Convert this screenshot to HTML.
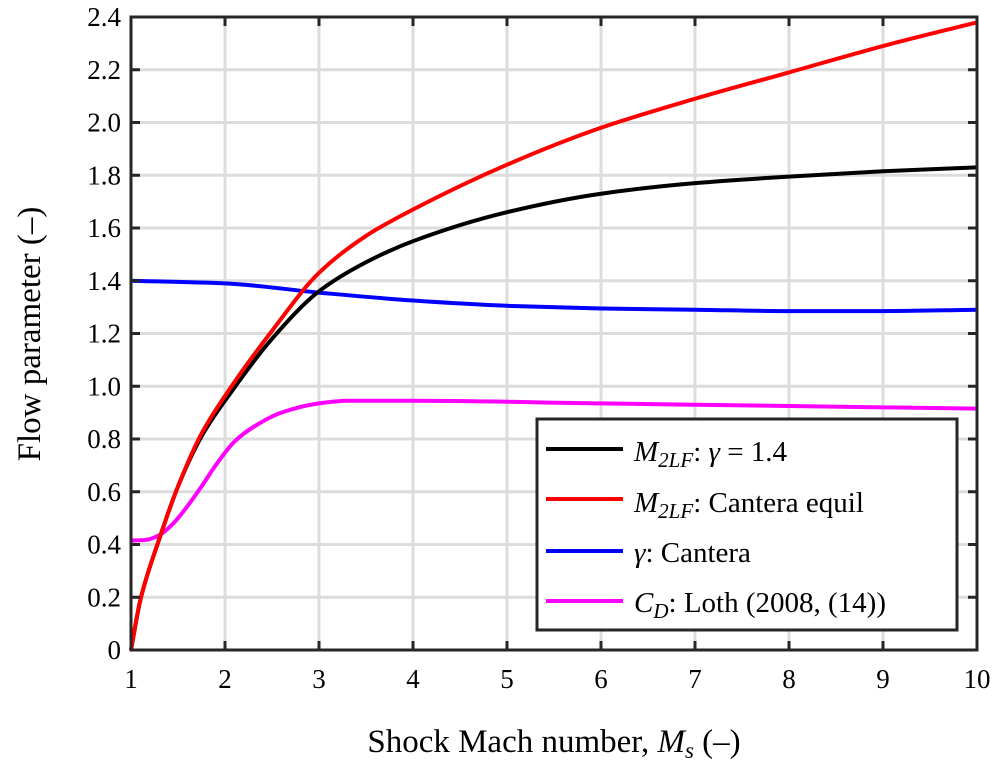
<!DOCTYPE html>
<html><head><meta charset="utf-8"><style>
body{margin:0;background:#fff;width:993px;height:771px;overflow:hidden}
svg text, svg tspan{font-family:"Liberation Serif","DejaVu Serif",serif !important}
</style></head><body>
<svg id="chart" width="993" height="771" style="position:absolute;left:0;top:0"></svg>
<script>
const xTicks=[1,2,3,4,5,6,7,8,9,10];
const yTicks=[0,0.2,0.4,0.6,0.8,1.0,1.2,1.4,1.6,1.8,2.0,2.2,2.4];
const yTickLabels=["0","0.2","0.4","0.6","0.8","1.0","1.2","1.4","1.6","1.8","2.0","2.2","2.4"];
const blackX=[1,1.1,1.3,1.5,1.75,2.07,2.5,3,3.5,4,5,6,7,8,9,10];
const blackY=[0,0.19,0.42,0.62,0.81,0.98,1.18,1.36,1.47,1.55,1.66,1.73,1.77,1.795,1.815,1.83];
const redX=[1,1.1,1.3,1.5,1.75,2.07,2.5,3,3.5,4,5,6,7,8,9,10];
const redY=[0,0.19,0.42,0.62,0.82,1.0,1.21,1.43,1.57,1.67,1.84,1.98,2.09,2.19,2.29,2.38];
const blueX=[1,2,3,4,5,6,7,8,9,10];
const blueY=[1.40,1.39,1.355,1.325,1.305,1.295,1.29,1.285,1.285,1.29];
const magX=[1,1.15,1.3,1.45,1.6,1.75,1.9,2.1,2.3,2.6,3.0,3.3,4,6,8,10];
const magY=[0.415,0.417,0.435,0.48,0.545,0.62,0.7,0.79,0.845,0.9,0.935,0.945,0.945,0.935,0.925,0.915];
const L=131,R=977,T=17,B=650;
const sx=v=>L+(v-1)/9*(R-L), sy=v=>B-v/2.4*(B-T);
const NS="http://www.w3.org/2000/svg", svg=document.getElementById('chart');
function el(t,a,p){const e=document.createElementNS(NS,t);for(const k in a)e.setAttribute(k,a[k]);(p||svg).appendChild(e);return e;}
xTicks.forEach(x=>{const g=el('line',{x1:sx(x),x2:sx(x),y1:T,y2:B,stroke:'#dcdcdc','stroke-width':3});

});
yTicks.forEach(y=>{const g=el('line',{x1:L,x2:R,y1:sy(y),y2:sy(y),stroke:'#dcdcdc','stroke-width':3});

});
function path(xs,ys){const X=xs.map(sx),Y=ys.map(sy),n=X.length;const d=[],m=[];
for(let i=0;i<n-1;i++)d.push((Y[i+1]-Y[i])/(X[i+1]-X[i]));
m[0]=d[0];m[n-1]=d[n-2];
for(let i=1;i<n-1;i++){if(d[i-1]*d[i]<=0)m[i]=0;else{const w1=2*(X[i+1]-X[i])+(X[i]-X[i-1]),w2=(X[i+1]-X[i])+2*(X[i]-X[i-1]);m[i]=(w1+w2)/(w1/d[i-1]+w2/d[i]);}}
let s='M'+X[0]+','+Y[0];
for(let i=0;i<n-1;i++){const h=(X[i+1]-X[i])/3;s+=' C'+(X[i]+h)+','+(Y[i]+m[i]*h)+' '+(X[i+1]-h)+','+(Y[i+1]-m[i+1]*h)+' '+X[i+1]+','+Y[i+1];}
return s;}
const series=[[magX,magY,'#ff00ff','series-cd-loth'],[blueX,blueY,'#0000ff','series-gamma-cantera'],[blackX,blackY,'#000','series-m2lf-gamma14'],[redX,redY,'#ff0000','series-m2lf-cantera']];
series.forEach(s=>{const p=el('path',{d:path(s[0],s[1]),fill:'none',stroke:s[2],'stroke-width':4});

});
const box=el('rect',{x:L,y:T,width:R-L,height:B-T,fill:'none',stroke:'#262626','stroke-width':3});


xTicks.forEach(x=>{el('line',{x1:sx(x),x2:sx(x),y1:B,y2:B-9,stroke:'#262626','stroke-width':3});el('line',{x1:sx(x),x2:sx(x),y1:T,y2:T+9,stroke:'#262626','stroke-width':3});
const t=el('text',{x:sx(x),y:B+38,'text-anchor':'middle','font-size':27,fill:'#000'});t.textContent=x;
t.style.fontFamily='"Liberation Serif", serif';

});
yTicks.forEach((y,i)=>{el('line',{x1:L,x2:L+9,y1:sy(y),y2:sy(y),stroke:'#262626','stroke-width':3});el('line',{x1:R,x2:R-9,y1:sy(y),y2:sy(y),stroke:'#262626','stroke-width':3});
const t=el('text',{x:L-10,y:sy(y)+9,'text-anchor':'end','font-size':27,fill:'#000'});t.textContent=yTickLabels[i];
t.style.fontFamily='"Liberation Serif", serif';

});
</script>
<svg width="993" height="771" style="position:absolute;left:0;top:0">
<text x="554" y="752" text-anchor="middle" font-size="33">Shock Mach number, <tspan font-style="italic">M</tspan><tspan font-style="italic" font-size="23" dy="6">s</tspan><tspan dy="-6"> (–)</tspan></text>
<text transform="translate(40,334) rotate(-90)" text-anchor="middle" font-size="33">Flow parameter (–)</text>
<g>
<rect x="537" y="419" width="420" height="211" fill="#fff" stroke="#262626" stroke-width="3"/>
<line x1="546" x2="623" y1="449" y2="449" stroke="#000" stroke-width="4"/>
<line x1="546" x2="623" y1="499" y2="499" stroke="#f00" stroke-width="4"/>
<line x1="546" x2="623" y1="551" y2="551" stroke="#00f" stroke-width="4"/>
<line x1="546" x2="623" y1="601" y2="601" stroke="#f0f" stroke-width="4"/>
<text x="634" y="461" font-size="29"><tspan font-style="italic">M</tspan><tspan font-style="italic" font-size="21" dy="6">2LF</tspan><tspan dy="-6">: </tspan><tspan font-style="italic">γ</tspan><tspan> = 1.4</tspan></text>
<text x="634" y="512" font-size="29"><tspan font-style="italic">M</tspan><tspan font-style="italic" font-size="21" dy="6">2LF</tspan><tspan dy="-6">: Cantera equil</tspan></text>
<text x="634" y="562" font-size="29"><tspan font-style="italic">γ</tspan><tspan>: Cantera</tspan></text>
<text x="634" y="612" font-size="29"><tspan font-style="italic">C</tspan><tspan font-style="italic" font-size="21" dy="6">D</tspan><tspan dy="-6">: Loth (2008, (14))</tspan></text>
</g>
</svg>
</body></html>
